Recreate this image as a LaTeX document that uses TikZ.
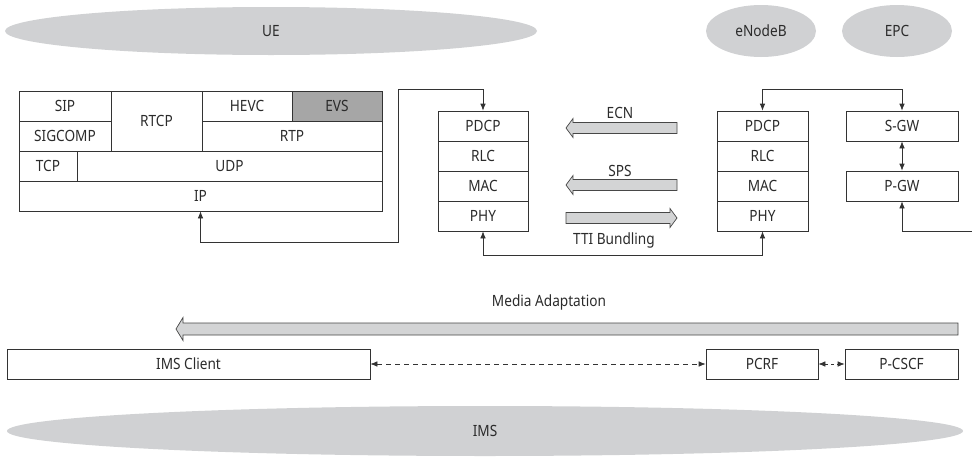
\documentclass[tikz,border=0pt]{standalone}
\usepackage{fontspec}
\setmainfont{Noto Sans}[FakeStretch=0.88]
\usetikzlibrary{arrows.meta,shapes.geometric}
\definecolor{ovalgray}{HTML}{D0D1D3}
\definecolor{evsgray}{HTML}{A6A6A6}
\definecolor{arrgray}{HTML}{D3D4D5}
\definecolor{linec}{HTML}{333333}
\definecolor{txt}{HTML}{2B2B2B}
\newcommand\leftblk[5]{% tip x, tail x, y, shaft half, head half
  \draw[blk] (#1,#3) -- (#1+7,#3-#5) -- (#1+7,#3-#4) -- (#2,#3-#4) -- (#2,#3+#4) -- (#1+7,#3+#4) -- (#1+7,#3+#5) -- cycle;}
\newcommand\rightblk[5]{% tail x, tip x, y, shaft half, head half
  \draw[blk] (#1,#3-#4) -- (#2-7,#3-#4) -- (#2-7,#3-#5) -- (#2,#3) -- (#2-7,#3+#5) -- (#2-7,#3+#4) -- (#1,#3+#4) -- cycle;}
\begin{document}
\begin{tikzpicture}[x=1pt,y=-1pt,
  font=\fontsize{15.5}{17}\selectfont, text=txt,
  oval/.style={ellipse, fill=ovalgray, draw=none, inner sep=0pt},
  cell/.style={rectangle, draw=linec, line width=0.7pt, inner sep=0pt, minimum height=30pt},
  link/.style={draw=linec, line width=0.7pt},
  blk/.style={fill=arrgray, draw=linec!90, line width=0.7pt, line join=miter},
  >={Latex[length=7pt,width=5.5pt]},
  lbl/.style={inner sep=1pt}]
\useasboundingbox (0,0) rectangle (972,458);

% ovals
\node[oval, minimum width=532pt, minimum height=48pt] (ue) at (271,31) {UE};
\node[oval, minimum width=110pt, minimum height=52pt] (enb) at (761,31) {eNodeB};
\node[oval, minimum width=110pt, minimum height=52pt] (epc) at (897,31) {EPC};
\node[oval, minimum width=956pt, minimum height=50pt] (ims) at (485,431) {IMS};

% UE protocol stack
\node[cell, minimum width=92pt] (sip) at (65,106) {SIP};
\node[cell, minimum width=92pt] (sigcomp) at (65,136) {SIGCOMP};
\node[cell, minimum width=91pt, minimum height=60pt] (rtcp) at (156.5,121) {RTCP};
\node[cell, minimum width=90pt] (hevc) at (247,106) {HEVC};
\node[cell, minimum width=90pt, fill=evsgray] (evs) at (337,106) {EVS};
\node[cell, minimum width=180pt] (rtp) at (292,136) {RTP};
\node[cell, minimum width=58pt] (tcp) at (48,166) {TCP};
\node[cell, minimum width=305pt] (udp) at (229.5,166) {UDP};
\node[cell, minimum width=363pt] (ip) at (200.5,196) {IP};

% UE-side radio stack
\node[cell, minimum width=90pt] (pdcpa) at (483,126) {PDCP};
\node[cell, minimum width=90pt] (rlca) at (483,156) {RLC};
\node[cell, minimum width=90pt] (maca) at (483,186) {MAC};
\node[cell, minimum width=90pt] (phya) at (483,216) {PHY};

% eNodeB stack
\node[cell, minimum width=91pt] (pdcpb) at (762.5,126) {PDCP};
\node[cell, minimum width=91pt] (rlcb) at (762.5,156) {RLC};
\node[cell, minimum width=91pt] (macb) at (762.5,186) {MAC};
\node[cell, minimum width=91pt] (phyb) at (762.5,216) {PHY};

% EPC
\node[cell, minimum width=112pt] (sgw) at (902,126) {S-GW};
\node[cell, minimum width=112pt] (pgw) at (902,186) {P-GW};

% IMS
\node[cell, minimum width=363pt] (client) at (188.5,364) {IMS Client};
\node[cell, minimum width=112pt] (pcrf) at (762,364) {PCRF};
\node[cell, minimum width=113pt] (pcscf) at (901.5,364) {P-CSCF};

% connectors
\coordinate (k1) at (398,242);
\coordinate (k2) at (398,89);
\draw[link,<->] (ip.south) |- (k1) -- (k2) -| (pdcpa.north);
\draw[link,<->] (phya.south) -- ++(0,24) -| (phyb.south);
\draw[link,<->] (pdcpb.north) -- ++(0,-21) -| (sgw.north);
\draw[link,<->] (sgw.south) -- (pgw.north);
\coordinate (k3) at (972,231);
\draw[link,<-] (pgw.south) |- (k3);
\draw[link,<->,dash pattern=on 5pt off 4pt] (client.east) -- (pcrf.west);
\draw[link,<->,dash pattern=on 3pt off 3pt] (pcrf.east) -- (pcscf.west);

% block arrows
\leftblk{566}{677}{128}{5.5}{9.5}
\leftblk{566}{677}{185}{5.5}{9.5}
\rightblk{566}{677}{218}{5.5}{9.5}
\leftblk{176}{958}{329}{6}{11.5}

% labels
\node[lbl] (ecn) at (620,113) {ECN};
\node[lbl] (sps) at (620,171) {SPS};
\node[lbl] (tti) at (614,240) {TTI Bundling};
\node[lbl] (media) at (549,302) {Media Adaptation};
\end{tikzpicture}
\end{document}
